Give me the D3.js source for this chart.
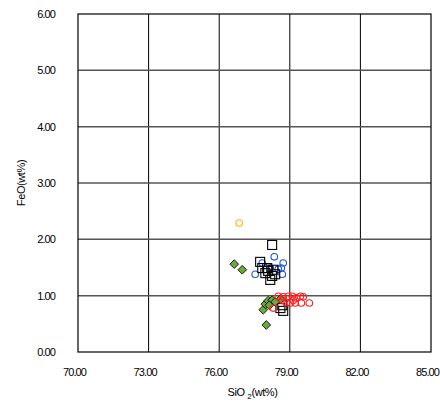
<!DOCTYPE html>
<html>
<head>
<meta charset="utf-8">
<script src="https://cdn.jsdelivr.net/npm/d3@7"></script>
<style>
  body { margin: 0; background: #fff; }
  text { font-family: "Liberation Sans Narrow", "Liberation Sans", Arial, sans-serif; fill: #000; }
</style>
</head>
<body>
<div id="chart"></div>
<script>
// tick values
var xTicks = [70, 73, 76, 79, 82, 85];
var yTicks = [0, 1, 2, 3, 4, 5, 6];

// series: [SiO2, FeO]
var yellow = [[76.85, 2.29]];
var blue = [[78.34, 1.69], [78.72, 1.58], [77.83, 1.58], [77.53, 1.38], [78.68, 1.38],
            [78.64, 1.49], [78.51, 1.47], [78.17, 1.49]];
var squares = [[78.25, 1.90], [77.74, 1.60], [77.83, 1.49], [77.96, 1.40], [78.08, 1.44],
               [78.25, 1.35], [78.38, 1.38], [78.17, 1.28], [78.04, 1.49], [78.30, 1.46],
               [78.60, 0.78], [78.72, 0.73], [78.68, 0.83]];
var green = [[76.64, 1.56], [76.98, 1.46], [77.87, 0.75], [78.00, 0.48], [77.96, 0.85],
             [78.08, 0.91], [78.25, 0.92], [78.60, 0.94], [78.38, 0.89], [78.13, 0.83]];
var red = [[78.30, 0.78], [78.51, 0.99], [78.72, 0.98], [78.94, 0.99], [79.11, 0.99],
           [79.28, 0.96], [79.45, 0.99], [79.57, 0.98], [79.83, 0.87], [79.49, 0.87],
           [79.23, 0.87], [79.02, 0.87], [78.85, 0.87], [78.68, 0.92], [79.15, 0.92]];

var margin = {top: 14, right: 9, bottom: 52, left: 78},
    width = 440 - margin.left - margin.right,
    height = 404 - margin.top - margin.bottom;

var svg = d3.select('#chart').append('svg')
    .attr('width', 440)
    .attr('height', 404)
  .append('g')
    .attr('transform', `translate(${margin.left}, ${margin.top})`);

var x = d3.scaleLinear().domain([70, 85]).range([0, width]);
var y = d3.scaleLinear().domain([0, 6]).range([height, 0]);

// grid
svg.selectAll('.vgrid').data(xTicks.slice(1, -1)).enter().append('line')
    .attr('x1', d => x(d)).attr('x2', d => x(d))
    .attr('y1', 0).attr('y2', height)
    .attr('stroke', '#000').attr('stroke-width', 1);
svg.selectAll('.hgrid').data(yTicks.slice(1, -1)).enter().append('line')
    .attr('x1', 0).attr('x2', width)
    .attr('y1', d => y(d)).attr('y2', d => y(d))
    .attr('stroke', '#555').attr('stroke-width', 1.5);

svg.append('rect')
    .attr('width', width).attr('height', height)
    .attr('fill', 'none').attr('stroke', '#000').attr('stroke-width', 1.2);

// axes
var xAxis = svg.append('g')
    .attr('transform', `translate(0,${height})`)
    .call(d3.axisBottom(x).tickValues(xTicks).tickFormat(d3.format('.2f')).tickSize(0).tickPadding(16));
var yAxis = svg.append('g')
    .call(d3.axisLeft(y).tickValues(yTicks).tickFormat(d3.format('.2f')).tickSize(0).tickPadding(23));
[xAxis, yAxis].forEach(function(a) {
    a.select('.domain').remove();
    a.selectAll('text').attr('font-size', 11).attr('letter-spacing', -0.9)
        .style('font-family', '"Liberation Sans Narrow", "Liberation Sans", sans-serif')
        .style('fill', '#000');
});
xAxis.selectAll('text').attr('dx', -4);

// axis titles
var xt = svg.append('text')
    .attr('x', width / 2 - 2).attr('y', height + 44)
    .attr('text-anchor', 'middle').attr('font-size', 11).attr('letter-spacing', -0.4);
xt.append('tspan').text('SiO ');
xt.append('tspan').attr('font-size', 8).attr('dy', 3).text('2');
xt.append('tspan').attr('dy', -3).text('(wt%)');

svg.append('text')
    .attr('transform', `translate(-53,${height / 2}) rotate(-90)`)
    .attr('text-anchor', 'middle').attr('font-size', 11).attr('letter-spacing', -0.4)
    .text('FeO(wt%)');

// marks
function circles(data, color) {
    svg.append('g').selectAll('circle').data(data).enter().append('circle')
        .attr('cx', d => x(d[0])).attr('cy', d => y(d[1])).attr('r', 3.3)
        .attr('fill', 'none').attr('stroke', color).attr('stroke-width', 1.1);
}
circles(blue, '#2255dd');

svg.append('g').selectAll('rect').data(squares).enter().append('rect')
    .attr('x', d => x(d[0]) - 4.5).attr('y', d => y(d[1]) - 4.5)
    .attr('width', 9).attr('height', 9)
    .attr('fill', 'none').attr('stroke', '#000').attr('stroke-width', 1.1);

var diamond = d3.symbol().type(d3.symbolSquare).size(38);
svg.append('g').selectAll('path').data(green).enter().append('path')
    .attr('d', diamond)
    .attr('transform', d => `translate(${x(d[0])},${y(d[1])}) rotate(45)`)
    .attr('fill', '#6aaa3a').attr('stroke', '#000').attr('stroke-width', 0.8);

circles(red, '#ff2020');
circles(yellow, '#ffb400');
</script>
</body>
</html>
